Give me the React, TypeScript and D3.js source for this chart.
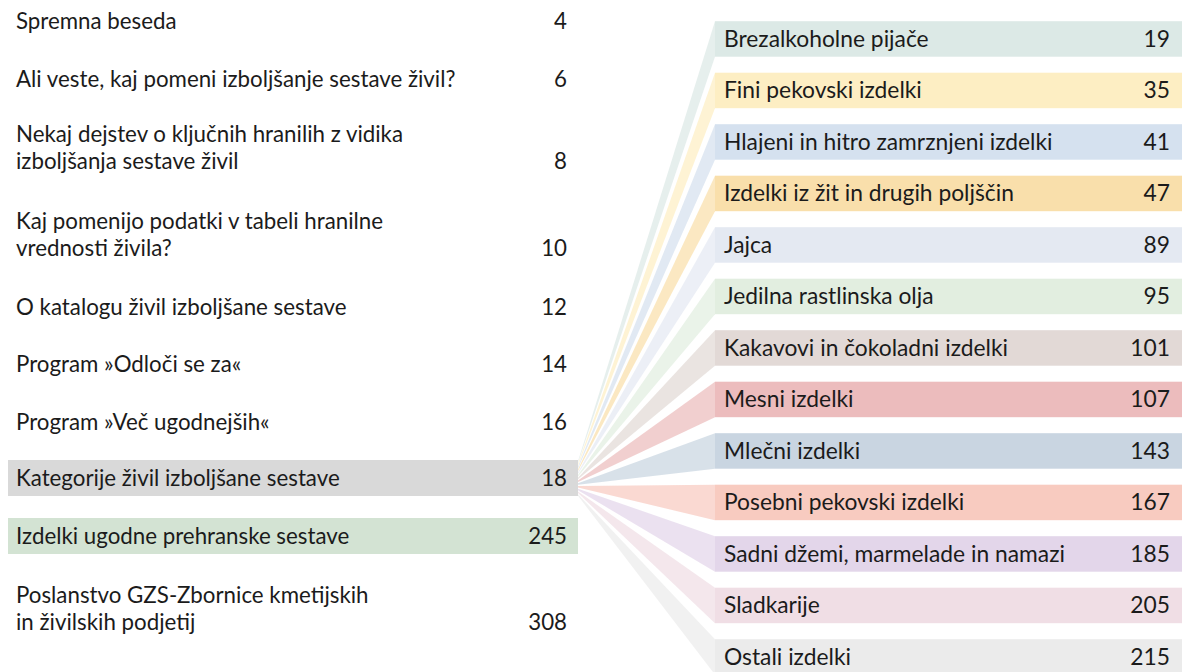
import React from "react";
import * as d3 from "d3";

// ---------- DATA ----------
const leftTitles: string[][] = [
  ["Spremna beseda"],
  ["Ali veste, kaj pomeni izboljšanje sestave živil?"],
  ["Nekaj dejstev o ključnih hranilih z vidika", "izboljšanja sestave živil"],
  ["Kaj pomenijo podatki v tabeli hranilne", "vrednosti živila?"],
  ["O katalogu živil izboljšane sestave"],
  ["Program »Odloči se za«"],
  ["Program »Več ugodnejših«"],
  ["Kategorije živil izboljšane sestave"],
  ["Izdelki ugodne prehranske sestave"],
  ["Poslanstvo GZS-Zbornice kmetijskih", "in živilskih podjetij"],
];
const leftPages: number[] = [4, 6, 8, 10, 12, 14, 16, 18, 245, 308];

const rightTitles: string[] = [
  "Brezalkoholne pijače",
  "Fini pekovski izdelki",
  "Hlajeni in hitro zamrznjeni izdelki",
  "Izdelki iz žit in drugih poljščin",
  "Jajca",
  "Jedilna rastlinska olja",
  "Kakavovi in čokoladni izdelki",
  "Mesni izdelki",
  "Mlečni izdelki",
  "Posebni pekovski izdelki",
  "Sadni džemi, marmelade in namazi",
  "Sladkarije",
  "Ostali izdelki",
];
const rightPages: number[] = [19, 35, 41, 47, 89, 95, 101, 107, 143, 167, 185, 205, 215];

// ---------- STYLE / LAYOUT ----------
const rightColors = [
  "#dce9e6", "#fdeec3", "#d5e1ef", "#f9dfab", "#e4e9f2", "#e2eee0", "#e2d9d6",
  "#ecbcbd", "#c9d5e1", "#f8cbc0", "#e3d6ea", "#f0dee5", "#ebebeb",
];
const leftHighlight: Record<number, string> = { 7: "#d9d9d9", 8: "#d3e3d3" };
// vertical centre of the first text line of each left entry
const leftLineY = [21, 79, 134, 221, 307, 364, 422, 478, 536, 595];
const LINE_H = 27.5;

const W = 1182;
const H = 672;
const FONT = "Lato, 'Source Sans Pro', sans-serif";
const FS_LEFT = 22.3;
const FS_RIGHT = 22.8;
const TXT = "#1b1b1b";

export default function App() {
  const n = rightTitles.length;
  const yRight = d3.scaleLinear().domain([0, n - 1]).range([21.2, 639.2]);
  const rowH = 35.5;
  const rx0 = 715;
  const rx1 = W;
  const lx0 = 8;
  const lx1 = 578;

  const catIdx = 7;
  const catTop = leftLineY[catIdx] - 18;
  const catBot = catTop + 36;
  const yOrigin = d3.scaleLinear().domain([0, n - 1]).range([catTop + 2, catBot - 1]);

  const wedge = (i: number) => {
    const oy = yOrigin(i);
    const t = yRight(i);
    const p = d3.path();
    p.moveTo(lx1, oy - 0.8);
    p.lineTo(rx0, t);
    p.lineTo(rx0, t + rowH);
    p.lineTo(lx1, oy + 0.8);
    p.closePath();
    return p.toString();
  };

  return (
    <svg
      width={W}
      height={H}
      style={{ position: "absolute", left: 0, top: 0, background: "#fff" }}
      fontFamily={FONT}
    >
      {/* fan */}
      <g>
        {rightTitles.map((_, i) => (
          <path key={i} d={wedge(i)} fill={rightColors[i]} fillOpacity={0.72} />
        ))}
      </g>
      {/* left list */}
      <g fontSize={FS_LEFT}>
        {leftTitles.map((lines, i) => {
          const y0 = leftLineY[i];
          const hl = leftHighlight[i];
          const lastY = y0 + (lines.length - 1) * LINE_H;
          return (
            <g key={i}>
              {hl && <rect x={lx0} y={y0 - 18} width={lx1 - lx0} height={36} fill={hl} />}
              {lines.map((ln, j) => (
                <text key={j} x={16} y={y0 + j * LINE_H} dy="0.35em" fill={TXT}>
                  {ln}
                </text>
              ))}
              <text x={567} y={lastY} dy="0.35em" textAnchor="end" fill={TXT}>
                {leftPages[i]}
              </text>
            </g>
          );
        })}
      </g>
      {/* right list */}
      <g fontSize={FS_RIGHT}>
        {rightTitles.map((t, i) => {
          const y = yRight(i);
          return (
            <g key={i}>
              <rect x={rx0} y={y} width={rx1 - rx0} height={rowH} fill={rightColors[i]} />
              <text x={724} y={y + rowH / 2} dy="0.35em" fill={TXT}>
                {t}
              </text>
              <text x={1170} y={y + rowH / 2} dy="0.35em" textAnchor="end" fill={TXT}>
                {rightPages[i]}
              </text>
            </g>
          );
        })}
      </g>
    </svg>
  );
}
